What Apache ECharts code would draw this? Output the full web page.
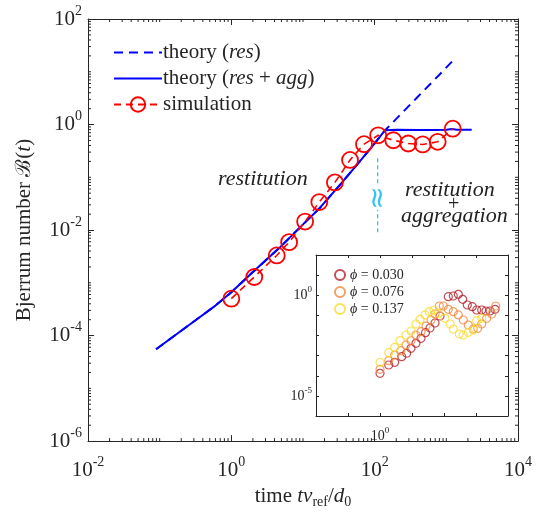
<!DOCTYPE html>
<html><head><meta charset="utf-8">
<script src="https://cdn.jsdelivr.net/npm/echarts@6/dist/echarts.min.js"></script>
<style>html,body{margin:0;padding:0;background:#fff}#c{width:543px;height:514px}</style>
</head><body><div id="c"></div>
<script>
// ---- data ----
const resX = [0.089, 0.3, 0.6, 1, 2, 4.77, 10, 17.3, 32.8, 60, 100, 140, 200, 400, 800, 1350];
const resY = [5.5e-5, 1.85e-4, 3.7e-4, 6.6e-4, 1.6e-3, 4.7e-3, 0.0128, 0.0265, 0.072, 0.19, 0.44, 0.78, 1.28, 3.36, 8.8, 18.4];
const aggX = [0.089, 0.3, 0.6, 1, 2, 4.77, 10, 17.3, 32.8, 60, 100, 140, 200, 400, 700, 1000, 1200, 1400, 2260];
const aggY = [5.5e-5, 1.85e-4, 3.7e-4, 6.6e-4, 1.6e-3, 4.7e-3, 0.0128, 0.0265, 0.072, 0.19, 0.44, 0.78, 0.80, 0.79, 0.79, 0.80, 0.82, 0.80, 0.80];
const simX = [1, 2.09, 4.3, 6.4, 10.7, 16.9, 27.9, 45.3, 71, 112, 182, 294, 468, 757, 1227];
const simY = [5.0e-4, 1.29e-3, 3.3e-3, 5.9e-3, 0.0145, 0.0339, 0.080, 0.213, 0.424, 0.625, 0.504, 0.437, 0.419, 0.47, 0.834];
const cutX = [110, 110];
const cutY = [0.23, 0.0083];

const p030X = [1, 1.87, 2.88, 4.76, 6.82, 9.31, 13.3, 19.1, 26.4, 36.5, 52.4, 75.0, 136, 195, 280, 384, 535, 766, 1052, 1507, 2054, 2738, 3926];
const p030Y = [1.32e-4, 3.42e-4, 4.66e-4, 8.85e-4, 1.31e-3, 2.31e-3, 4.09e-3, 7.26e-3, 0.0138, 0.0236, 0.0418, 0.0931, 0.847, 0.918, 1.114, 0.630, 0.328, 0.270, 0.185, 0.185, 0.165, 0.165, 0.200];
const p076X = [1, 1.87, 2.88, 4.44, 6.49, 9.31, 13.3, 19.1, 27.4, 39.3, 52.4, 71.3, 95.1, 136, 195, 280, 401, 574, 824, 1130, 1507, 2158, 3097, 4130];
const p076Y = [2.09e-4, 5.62e-4, 1.07e-3, 1.76e-3, 3.39e-3, 5.50e-3, 0.0106, 0.0155, 0.0295, 0.0589, 0.117, 0.292, 0.292, 0.200, 0.152, 0.105, 0.0589, 0.0333, 0.0210, 0.0228, 0.0372, 0.0716, 0.117, 0.292];
const p137X = [1, 1.87, 2.88, 4.22, 6.49, 9.31, 13.3, 17.8, 25.5, 34.7, 48.7, 66.1, 107, 155, 195, 302, 398, 575, 832, 1047, 1514];
const p137Y = [4.68e-4, 1.40e-3, 2.59e-3, 5.52e-3, 0.0106, 0.0167, 0.0372, 0.0638, 0.105, 0.152, 0.185, 0.127, 0.0716, 0.0372, 0.0210, 0.0119, 0.0106, 0.0144, 0.0187, 0.0543, 0.0716];

const mainXLabels = [1e-2, 1, 1e2, 1e4];
const mainYLabels = [1e-6, 1e-4, 1e-2, 1, 1e2];
const insetXLabels = [1];
const insetYLabels = [1e-5, 1];

const zip = (a, b) => a.map((v, i) => [v, b[i]]);
const SERIF = 'Liberation Serif';
const AX = '#262626';

function powLabel(set) {
  return function (v) {
    const ok = set.some(t => Math.abs(Math.log10(t) - Math.log10(v)) < 1e-6);
    if (!ok) return '';
    const e = Math.round(Math.log10(v));
    return '{b|10}{s|' + e + '}';
  };
}
function rich(big, small, lh) {
  return {
    b: { fontFamily: SERIF, fontSize: big, color: AX, lineHeight: lh, verticalAlign: 'middle' },
    s: { fontFamily: SERIF, fontSize: small, color: AX, lineHeight: small, verticalAlign: 'top' }
  };
}

// minor tick values (axis decoration): k*10^n
function minorTicks(lo, hi, majorStep) {
  const out = [];
  for (let n = lo; n < hi; n++) {
    for (let k = 1; k <= 9; k++) {
      if (k === 1 && ((n - lo) % majorStep === 0)) continue;
      out.push(k * Math.pow(10, n));
    }
  }
  return out;
}
const xMinor = minorTicks(-2, 4, 2);
const yMinor = minorTicks(-6, 2, 2);

function tickSeries(vals, dir, len, xi, yi, xr, yr) {
  return {
    type: 'custom', xAxisIndex: xi, yAxisIndex: yi, silent: true, clip: false, z: 5,
    data: vals.map(v => dir === 'x' ? [v, yr[0]] : [xr[0], v]),
    encode: { x: 0, y: 1 },
    renderItem: function (params, api) {
      const st = { stroke: AX, lineWidth: 1 };
      if (dir === 'x') {
        const v = api.value(0);
        const a = api.coord([v, yr[0]]), b = api.coord([v, yr[1]]);
        return { type: 'group', children: [
          { type: 'line', shape: { x1: a[0], y1: a[1], x2: a[0], y2: a[1] - len }, style: st },
          { type: 'line', shape: { x1: b[0], y1: b[1], x2: b[0], y2: b[1] + len }, style: st }
        ]};
      } else {
        const v = api.value(1);
        const a = api.coord([xr[0], v]), b = api.coord([xr[1], v]);
        return { type: 'group', children: [
          { type: 'line', shape: { x1: a[0], y1: a[1], x2: a[0] + len, y2: a[1] }, style: st },
          { type: 'line', shape: { x1: b[0], y1: b[1], x2: b[0] - len, y2: b[1] }, style: st }
        ]};
      }
    }
  };
}

function logAxis(extra) {
  return Object.assign({
    type: 'log', logBase: 10,
    axisLine: { show: true, onZero: false, lineStyle: { color: AX, width: 1 } },
    axisTick: { show: true, inside: true, length: 6, lineStyle: { color: AX } },
    splitLine: { show: false },
    minorTick: { show: false }
  }, extra);
}

const chart = echarts.init(document.getElementById('c'), null, { renderer: 'canvas' });
chart.setOption({
  animation: false,
  backgroundColor: '#fff',
  grid: [
    { left: 88, top: 19, right: 25, bottom: 69 },
    { left: 316, top: 255, width: 192, height: 161, show: true, backgroundColor: '#fff', borderWidth: 0, z: 10 }
  ],
  xAxis: [
    logAxis({ gridIndex: 0, position: 'bottom', min: 1e-2, max: 1e4, interval: 2,
      axisLabel: { margin: 14, formatter: powLabel(mainXLabels), rich: rich(21, 14, 30) },
      name: '{n|time }{i|tv}{sub|ref}{n|/}{i|d}{sub|0}', nameLocation: 'middle', nameGap: 40,
      nameTextStyle: { rich: {
        n: { fontFamily: SERIF, fontSize: 21, color: AX, lineHeight: 26, verticalAlign: 'middle' },
        i: { fontFamily: SERIF, fontSize: 21, fontStyle: 'italic', color: AX, lineHeight: 26, verticalAlign: 'middle' },
        sub: { fontFamily: SERIF, fontSize: 14, color: AX, lineHeight: 14, verticalAlign: 'bottom' } } } }),
    logAxis({ gridIndex: 0, position: 'top', min: 1e-2, max: 1e4, interval: 2, axisLabel: { show: false } }),
    logAxis({ gridIndex: 1, position: 'bottom', min: 1e-2, max: 1e4, interval: 1, z: 11,
      axisTick: { show: true, inside: true, length: 3, lineStyle: { color: AX } },
      axisLabel: { margin: 10, formatter: powLabel(insetXLabels), rich: rich(14, 9, 20) } }),
    logAxis({ gridIndex: 1, position: 'top', min: 1e-2, max: 1e4, interval: 1, z: 11,
      axisTick: { show: true, inside: true, length: 3, lineStyle: { color: AX } }, axisLabel: { show: false } })
  ],
  yAxis: [
    logAxis({ gridIndex: 0, position: 'left', min: 1e-6, max: 1e2, interval: 2,
      axisLabel: { margin: 6, formatter: powLabel(mainYLabels), rich: rich(21, 14, 30) },
      name: '{n|Bjerrum number ℬ(}{i|t}{n|)}', nameLocation: 'middle', nameGap: 53, nameRotate: 90,
      nameTextStyle: { rich: {
        n: { fontFamily: SERIF, fontSize: 21, color: AX },
        i: { fontFamily: SERIF, fontSize: 21, fontStyle: 'italic', color: AX } } } }),
    logAxis({ gridIndex: 0, position: 'right', min: 1e-6, max: 1e2, interval: 2, axisLabel: { show: false } }),
    logAxis({ gridIndex: 1, position: 'left', min: 1e-6, max: 1e2, interval: 1, z: 11,
      axisTick: { show: true, inside: true, length: 3, lineStyle: { color: AX } },
      axisLabel: { margin: 4, formatter: powLabel(insetYLabels), rich: rich(14, 9, 20) } }),
    logAxis({ gridIndex: 1, position: 'right', min: 1e-6, max: 1e2, interval: 1, z: 11,
      axisTick: { show: true, inside: true, length: 3, lineStyle: { color: AX } }, axisLabel: { show: false } })
  ],
  legend: [
    { left: 108, top: 37, orient: 'vertical', itemWidth: 48, itemHeight: 18, itemGap: 5,
      data: [
        { name: 'res', itemStyle: { opacity: 0 } },
        { name: 'resagg', itemStyle: { opacity: 0 } },
        { name: 'sim' }
      ],
      formatter: function (n) {
        if (n === 'res') return '{n|theory (}{i|res}{n|)}';
        if (n === 'resagg') return '{n|theory (}{i|res}{n| + }{i|agg}{n|)}';
        return '{n|simulation}';
      },
      textStyle: { padding: [0, 0, 0, -4], rich: {
        n: { fontFamily: SERIF, fontSize: 21, color: AX },
        i: { fontFamily: SERIF, fontSize: 21, fontStyle: 'italic', color: AX } } } },
    { left: 329, top: 263, orient: 'vertical', itemWidth: 10, itemHeight: 10, itemGap: 3, z: 12,
      data: ['p030', 'p076', 'p137'],
      formatter: function (n) { return '{i|ϕ}{n| = 0.' + n.slice(1) + '}'; },
      textStyle: { rich: {
        n: { fontFamily: SERIF, fontSize: 14, color: AX },
        i: { fontFamily: SERIF, fontSize: 14, fontStyle: 'italic', color: AX } } } }
  ],
  series: [
    { name: 'res', type: 'line', xAxisIndex: 0, yAxisIndex: 0, data: zip(resX, resY), showSymbol: false, symbol: 'none',
      lineStyle: { color: '#0000ff', width: 2, type: [9, 6] }, itemStyle: { color: '#0000ff' }, z: 3 },
    { name: 'resagg', type: 'line', xAxisIndex: 0, yAxisIndex: 0, data: zip(aggX, aggY), showSymbol: false, symbol: 'none',
      lineStyle: { color: '#0000ff', width: 2 }, itemStyle: { color: '#0000ff' }, z: 3 },
    { name: 'sim', type: 'line', xAxisIndex: 0, yAxisIndex: 0, data: zip(simX, simY), symbol: 'circle', symbolSize: 16,
      lineStyle: { color: '#ff0000', width: 1.6, type: [7, 5] },
      itemStyle: { color: 'rgba(255,255,255,0)', borderColor: '#ff0000', borderWidth: 1.8 }, z: 4 },
    { name: 'cut', type: 'line', xAxisIndex: 0, yAxisIndex: 0, data: zip(cutX, cutY), symbol: 'none',
      lineStyle: { color: '#33c4f2', width: 1.3, type: [4, 3] }, z: 3 },
    { name: 'p030', type: 'scatter', xAxisIndex: 2, yAxisIndex: 2, data: zip(p030X, p030Y), symbol: 'circle', symbolSize: 8, z: 12,
      itemStyle: { color: 'rgba(255,255,255,0)', borderColor: '#b3202a', borderWidth: 1.2 } },
    { name: 'p076', type: 'scatter', xAxisIndex: 2, yAxisIndex: 2, data: zip(p076X, p076Y), symbol: 'circle', symbolSize: 8, z: 12,
      itemStyle: { color: 'rgba(255,255,255,0)', borderColor: '#f4873f', borderWidth: 1.2 } },
    { name: 'p137', type: 'scatter', xAxisIndex: 2, yAxisIndex: 2, data: zip(p137X, p137Y), symbol: 'circle', symbolSize: 8, z: 12,
      itemStyle: { color: 'rgba(255,255,255,0)', borderColor: '#f7dc2e', borderWidth: 1.2 } },
    tickSeries(xMinor, 'x', 3, 0, 0, [1e-2, 1e4], [1e-6, 1e2]),
    tickSeries(yMinor, 'y', 3, 0, 0, [1e-2, 1e4], [1e-6, 1e2])
  ],
  graphic: [
    { type: 'text', left: 218, top: 168, style: { text: 'restitution', font: 'italic 22px "Liberation Serif"', fill: '#222' } },
    { type: 'text', left: 405, top: 179, style: { text: 'restitution', font: 'italic 22px "Liberation Serif"', fill: '#222' } },
    { type: 'text', left: 448, top: 195, style: { text: '+', font: '20px "Liberation Serif"', fill: '#222' } },
    { type: 'text', left: 401, top: 205, style: { text: 'aggregation', font: 'italic 22px "Liberation Serif"', fill: '#222' } },
    { type: 'text', x: 379, y: 198, rotation: Math.PI / 2, z: 20,
      style: { text: '≈', font: '28px "DejaVu Sans"', fill: '#33c4f2', align: 'center', verticalAlign: 'middle', backgroundColor: '#fff' } }
  ]
});
</script></body></html>
